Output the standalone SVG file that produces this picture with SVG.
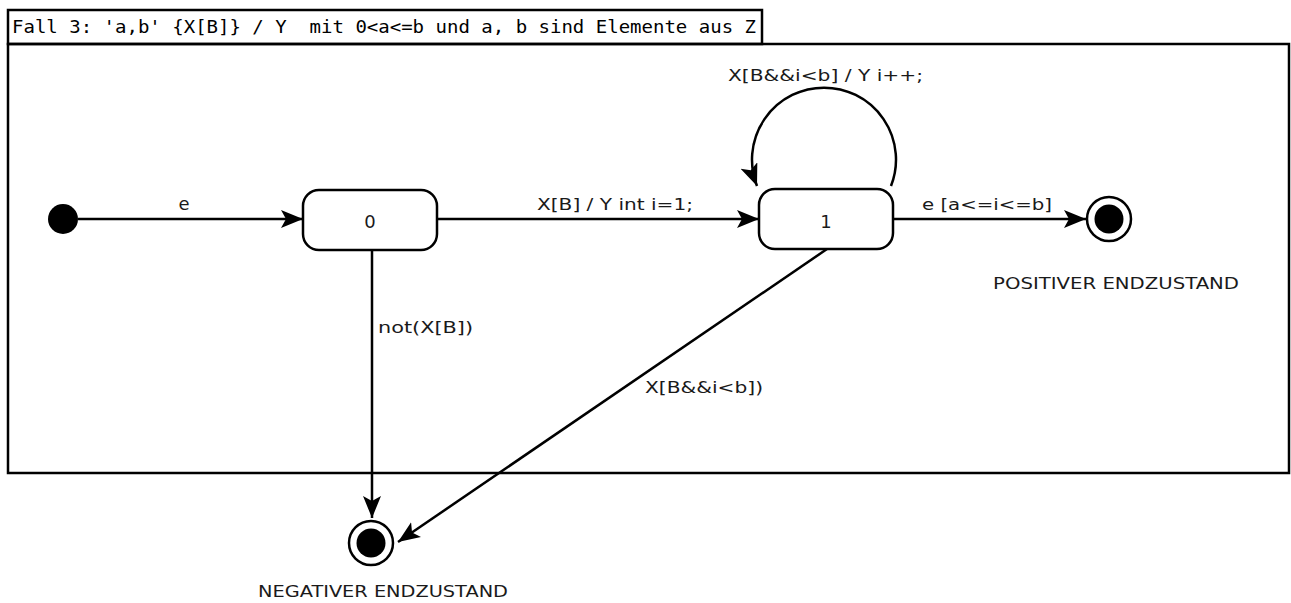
<svg xmlns="http://www.w3.org/2000/svg" width="1291" height="603" viewBox="0 0 1291 603">
<style>
.frame{fill:none;stroke:#000;stroke-width:2.5}
.st{fill:#fff;stroke:#000;stroke-width:2.5}
.lbl{font-family:"DejaVu Sans",sans-serif;font-size:16px;fill:#1a1a1a}
.big{font-size:18px}
.title{font-family:"DejaVu Sans Mono",monospace;font-size:18px;fill:#000;white-space:pre}
.edge{fill:none;stroke:#000;stroke-width:2.5}
</style>
<defs>
<marker id="arr" markerUnits="userSpaceOnUse" markerWidth="24" markerHeight="20" refX="22" refY="9" orient="auto">
<path d="M0,0 L22,9 L0,18 L5,9 z" fill="#000"/>
</marker>
</defs>
<rect width="1291" height="603" fill="#fff"/>
<g id="frame">
<rect class="frame" x="8" y="44" width="1281" height="429"/>
<rect class="frame" x="8" y="10" width="754" height="34" fill="#fff"/>
<text class="title" x="12" y="33" textLength="744" lengthAdjust="spacingAndGlyphs" xml:space="preserve">Fall 3: 'a,b' {X[B]} / Y  mit 0&lt;a&lt;=b und a, b sind Elemente aus Z</text>
</g>
<g id="connectors">
<path class="edge" d="M78 219 L303 219" marker-end="url(#arr)"/>
<path class="edge" d="M437 219 L759 219" marker-end="url(#arr)"/>
<path class="edge" d="M893 219 L1086 219" marker-end="url(#arr)"/>
<path class="edge" d="M372 250 L372 518" marker-end="url(#arr)"/>
<path class="edge" d="M827 249 L398 542" marker-end="url(#arr)"/>
<path class="edge" d="M891 186 A72 72 0 1 0 757 186" marker-end="url(#arr)"/>
<text class="lbl big" x="184" y="210" text-anchor="middle">e</text>
<text class="lbl" x="537" y="210" textLength="156" lengthAdjust="spacingAndGlyphs">X[B] / Y int i=1;</text>
<text class="lbl" x="728" y="81" textLength="195" lengthAdjust="spacingAndGlyphs">X[B&amp;&amp;i&lt;b] / Y i++;</text>
<text class="lbl" x="922" y="210" textLength="130" lengthAdjust="spacingAndGlyphs">e [a&lt;=i&lt;=b]</text>
<text class="lbl" x="378" y="333" textLength="95" lengthAdjust="spacingAndGlyphs">not(X[B])</text>
<text class="lbl" x="645" y="393" textLength="118" lengthAdjust="spacingAndGlyphs">X[B&amp;&amp;i&lt;b])</text>
</g>
<g id="initial">
<circle cx="63" cy="219" r="15" fill="#000"/>
</g>
<g id="state0">
<rect class="st" x="303" y="190" width="134" height="60" rx="16" ry="16"/>
<text class="lbl big" x="370" y="228" text-anchor="middle">0</text>
</g>
<g id="state1">
<rect class="st" x="759" y="189" width="134" height="60" rx="16" ry="16"/>
<text class="lbl big" x="826" y="228" text-anchor="middle">1</text>
</g>
<g id="positive">
<circle cx="1109" cy="219" r="22" fill="#fff" stroke="#000" stroke-width="2.5"/>
<circle cx="1109" cy="219" r="14.5" fill="#000"/>
<text class="lbl" x="993" y="289" textLength="246" lengthAdjust="spacingAndGlyphs">POSITIVER ENDZUSTAND</text>
</g>
<g id="negative">
<circle cx="371" cy="543" r="22" fill="#fff" stroke="#000" stroke-width="2.5"/>
<circle cx="371" cy="543" r="14.5" fill="#000"/>
<text class="lbl" x="258" y="597" textLength="250" lengthAdjust="spacingAndGlyphs">NEGATIVER ENDZUSTAND</text>
</g>
</svg>
